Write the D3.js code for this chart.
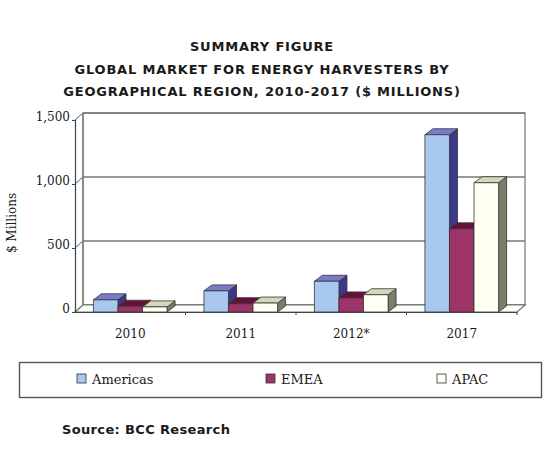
<!DOCTYPE html>
<html>
<head>
<meta charset="utf-8">
<script src="https://cdn.jsdelivr.net/npm/d3@7.9.0/dist/d3.min.js"></script>
<style>
  body { margin: 0; background: #fff; }
  svg { display: block; }
  .title { font-family: "DejaVu Sans", Verdana, sans-serif; font-weight: bold; font-size: 13px; letter-spacing: 0.8px; fill: #1a1a1a; }
  .serif { font-family: "DejaVu Serif", serif; font-size: 12px; fill: #1a1a1a; }
</style>
</head>
<body>
<svg width="547" height="450"></svg>
<script>
const years = ['2010', '2011', '2012*', '2017'];
const regions = ['Americas', 'EMEA', 'APAC'];
const americas = [95, 165, 240, 1385];
const emea = [45, 65, 110, 650];
const apac = [40, 70, 135, 1010];
const yTicks = [0, 500, 1000, 1500];

const seriesValues = [americas, emea, apac];
// front, top, side shades for each region
const faceColors = [
  ['#a8c8f0', '#7b7bcc', '#3a3a88'],
  ['#9c3468', '#6a1038', '#4e0a2a'],
  ['#fffff2', '#d6d6b8', '#7c7c6a'],
];

const svg = d3.select('svg');

// title
const titleLines = ['SUMMARY FIGURE', 'GLOBAL MARKET FOR ENERGY HARVESTERS BY', 'GEOGRAPHICAL REGION, 2010-2017 ($ MILLIONS)'];
titleLines.forEach((t, i) => {
  svg.append('text').attr('class', 'title')
    .attr('x', 262).attr('y', 51 + i * 22.5)
    .attr('text-anchor', 'middle').text(t);
});

const x = d3.scaleBand().domain(years).range([75, 517]);
const xi = d3.scaleBand().domain(regions).range([0, x.bandwidth()]).paddingOuter(0.75);
const y = d3.scaleLinear().domain([0, 1500]).range([312, 120]);

const wallDx = 8, wallDy = -7;
const barDx = 8, barDy = -6;
const x0 = x.range()[0], x1 = x.range()[1];

// back wall + gridlines
svg.append('rect')
  .attr('x', x0 + wallDx).attr('y', y(1500) + wallDy)
  .attr('width', x1 - x0).attr('height', y(0) - y(1500))
  .attr('fill', '#fff').attr('stroke', '#6e7a70').attr('stroke-width', 1.2);

yTicks.forEach(t => {
  svg.append('line')
    .attr('x1', x0 + wallDx).attr('x2', x1 + wallDx)
    .attr('y1', y(t) + wallDy).attr('y2', y(t) + wallDy)
    .attr('stroke', '#6e7a70').attr('stroke-width', 1.4);
  // diagonal on the left side wall
  svg.append('line')
    .attr('x1', x0).attr('x2', x0 + wallDx)
    .attr('y1', y(t)).attr('y2', y(t) + wallDy)
    .attr('stroke', '#555').attr('stroke-width', 1);
});

// left side wall
svg.append('line').attr('x1', x0 + wallDx).attr('x2', x0 + wallDx)
  .attr('y1', y(0) + wallDy).attr('y2', y(1500) + wallDy)
  .attr('stroke', '#6e7a70').attr('stroke-width', 1.2);

// floor
svg.append('path')
  .attr('d', `M${x0},${y(0)} L${x1},${y(0)} L${x1 + wallDx},${y(0) + wallDy} L${x0 + wallDx},${y(0) + wallDy} Z`)
  .attr('fill', '#fff').attr('stroke', '#6e7a70').attr('stroke-width', 1.2);

// bars
years.forEach((yr, i) => {
  regions.forEach((r, s) => {
    const v = seriesValues[s][i];
    const bx = x(yr) + xi(r), bw = xi.bandwidth();
    const top = y(v), base = y(0);
    const [cFront, cTop, cSide] = faceColors[s];
    const g = svg.append('g').attr('stroke', '#333').attr('stroke-width', 0.8).attr('stroke-linejoin', 'round');
    g.append('path')
      .attr('d', `M${bx + bw},${base} L${bx + bw + barDx},${base + barDy} L${bx + bw + barDx},${top + barDy} L${bx + bw},${top} Z`)
      .attr('fill', cSide);
    g.append('path')
      .attr('d', `M${bx},${top} L${bx + barDx},${top + barDy} L${bx + bw + barDx},${top + barDy} L${bx + bw},${top} Z`)
      .attr('fill', cTop);
    g.append('rect')
      .attr('x', bx).attr('y', top).attr('width', bw).attr('height', base - top)
      .attr('fill', cFront);
  });
});

// front axis
const axisG = svg.append('g').attr('transform', `translate(${x0},0)`);
axisG.call(d3.axisLeft(y).tickValues(yTicks).tickSize(3).tickFormat(d3.format(',')))
  .call(g => g.select('.domain').attr('stroke', '#444').attr('stroke-width', 1.2))
  .call(g => g.selectAll('.tick line').attr('stroke', '#444'))
  .call(g => g.selectAll('.tick text').attr('class', 'serif').attr('dy', '0.05em').attr('x', -5));

const xAxisG = svg.append('g').attr('transform', `translate(0,${y(0)})`);
xAxisG.call(d3.axisBottom(x).tickSize(0).tickPadding(17))
  .call(g => g.select('.domain').attr('stroke', '#444').attr('stroke-width', 1.2))
  .call(g => g.selectAll('.tick text').attr('class', 'serif'));
// small category separators
x.domain().forEach(d => {
  svg.append('line').attr('x1', x(d) + x.bandwidth()).attr('x2', x(d) + x.bandwidth())
    .attr('y1', y(0)).attr('y2', y(0) + 3).attr('stroke', '#444');
});

// y label
svg.append('text').attr('class', 'serif')
  .attr('transform', 'translate(16,223) rotate(-90)')
  .attr('text-anchor', 'middle').text('$ Millions');

// legend
svg.append('rect').attr('x', 19.5).attr('y', 362.5).attr('width', 522).attr('height', 35)
  .attr('fill', '#fff').attr('stroke', '#555').attr('stroke-width', 1.4);
const legendX = [77, 266, 437];
regions.forEach((r, s) => {
  svg.append('rect').attr('x', legendX[s]).attr('y', 374).attr('width', 9).attr('height', 9)
    .attr('fill', faceColors[s][0]).attr('stroke', '#333').attr('stroke-width', 0.8);
  svg.append('text').attr('class', 'serif').style('font-size', '13px')
    .attr('x', legendX[s] + 15).attr('y', 383.5).text(r);
});

// source
svg.append('text').attr('class', 'title').style('letter-spacing', '0.35px')
  .attr('x', 62).attr('y', 434).text('Source: BCC Research');
</script>
</body>
</html>
